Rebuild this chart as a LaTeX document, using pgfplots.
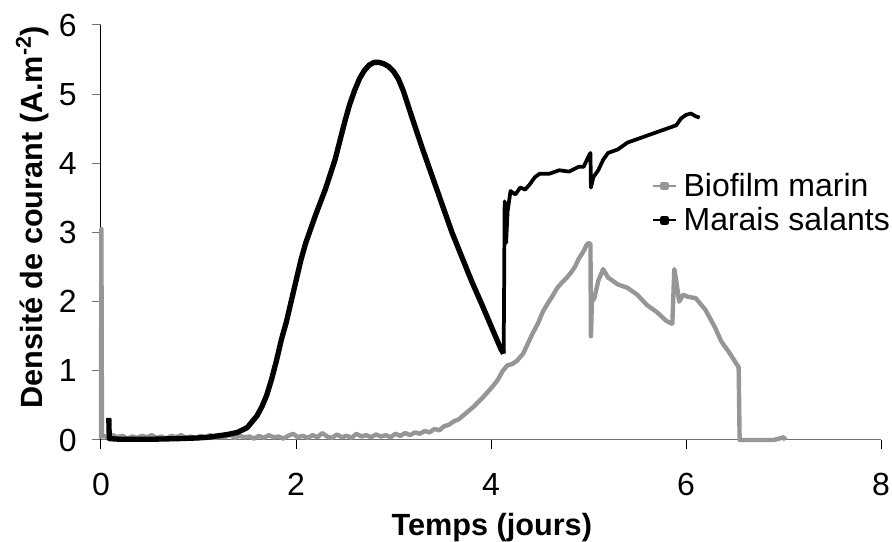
\documentclass[border=0pt]{standalone}
\usepackage{pgfplots}
\pgfplotsset{compat=1.18}
\usepackage{fontspec}
\setmainfont{Liberation Sans}
\definecolor{bio}{RGB}{150,150,150}
\begin{document}
\begin{tikzpicture}
\begin{axis}[
  width=585pt, height=311.25pt, scale only axis=true,
  xmin=0, xmax=8, ymin=0, ymax=6,
  axis x line=bottom, axis y line=left,
  axis line style={-, line width=0.75pt},
  x axis line style={draw=black!55},
  y axis line style={draw=black},
  tick align=outside, major tick length=6.75pt,
  xtick style={black, line width=0.75pt},
  ytick style={black!55, line width=0.75pt},
  xtick={0,2,4,6,8}, ytick={0,1,2,3,4,5,6},
  minor tick num=0,
  /pgf/number format/assume math mode=true,
  tick label style={font=\fontsize{24}{28}\selectfont, inner sep=0pt},
  xticklabel style={anchor=north, yshift=-18pt},
  yticklabel style={anchor=east, xshift=-11.25pt},
  label style={font=\fontsize{23}{27}\selectfont\bfseries, inner sep=0pt},
  xlabel={Temps (jours)},
  ylabel={Densité de courant (A.m\textsuperscript{-2})},
  xlabel style={at={(axis description cs:0.501,-0.229)}, anchor=base},
  ylabel style={at={(axis description cs:-0.0745,0.537)}, anchor=base},
  legend style={draw=none, fill=none, at={(axis description cs:0.7064,0.6434)}, anchor=north west,
    font=\fontsize{24}{28}\selectfont, row sep=7pt, column sep=5pt, inner sep=0pt,
    nodes={inner sep=0pt}},
  legend cell align=left,
  clip=false,
]
\coordinate (BL) at (rel axis cs:0,0);
\coordinate (TR) at (rel axis cs:1,1);
\addplot[bio, line width=3.3pt, line join=round,
  legend image code/.code={\draw[bio, line width=1.5pt] (0pt,0pt) -- (17pt,0pt); \fill[bio] (7pt,-1.5pt) rectangle (10pt,1.5pt);}]
coordinates {
(0,0.02)(0.004,3.05)(0.01,0.05)(0.03,0.06)(0.08,0.03)(0.12,0.07)(0.17,0.04)(0.22,0.06)(0.27,0.02)(0.32,0.05)(0.37,0.03)(0.42,0.06)(0.47,0.04)(0.52,0.07)(0.57,0.03)(0.62,0.05)(0.67,0.02)(0.72,0.06)(0.77,0.04)(0.82,0.07)(0.87,0.03)(0.92,0.05)(0.97,0.02)(1.02,0.06)(1.07,0.04)(1.12,0.07)(1.17,0.03)(1.22,0.05)(1.27,0.04)(1.32,0.08)(1.37,0.03)(1.42,0.06)(1.47,0.04)(1.52,0.05)(1.57,0.02)(1.62,0.06)(1.67,0.03)(1.72,0.07)(1.77,0.04)(1.82,0.05)(1.87,0.02)(1.92,0.06)(1.97,0.09)(2.02,0.04)(2.07,0.06)(2.12,0.03)(2.17,0.07)(2.22,0.04)(2.27,0.1)(2.32,0.05)(2.37,0.03)(2.42,0.08)(2.47,0.04)(2.52,0.06)(2.57,0.03)(2.62,0.09)(2.67,0.05)(2.72,0.07)(2.77,0.04)(2.82,0.08)(2.87,0.05)(2.92,0.07)(2.97,0.04)(3.02,0.09)(3.07,0.06)(3.12,0.1)(3.17,0.07)(3.22,0.11)(3.27,0.09)(3.32,0.13)(3.37,0.11)(3.42,0.16)(3.47,0.14)(3.52,0.2)(3.57,0.22)(3.62,0.27)(3.67,0.3)(3.72,0.36)(3.77,0.42)(3.82,0.48)(3.87,0.55)(3.92,0.62)(3.97,0.7)(4.02,0.78)(4.07,0.87)(4.12,1.0)(4.17,1.08)(4.22,1.1)(4.27,1.15)(4.33,1.25)(4.38,1.4)(4.43,1.55)(4.48,1.68)(4.53,1.85)(4.58,1.97)(4.63,2.08)(4.68,2.2)(4.73,2.28)(4.78,2.35)(4.82,2.42)(4.86,2.5)(4.9,2.62)(4.95,2.73)(4.98,2.82)(5.0,2.85)(5.02,2.83)
(5.025,1.5)(5.035,2.0)(5.06,2.05)(5.1,2.3)(5.15,2.47)(5.2,2.35)(5.3,2.25)(5.4,2.2)(5.5,2.1)(5.6,1.95)(5.7,1.85)(5.8,1.72)(5.86,1.68)(5.88,2.47)(5.9,2.3)(5.93,2.0)(5.97,2.1)(6.02,2.07)(6.1,2.05)(6.2,1.88)(6.3,1.62)(6.36,1.43)(6.45,1.25)(6.54,1.05)(6.55,0)(6.7,0)(6.9,0)(6.98,0.03)(7.0,0.04)(7.02,0.0)
};
\addlegendentry{Biofilm marin}
\addplot[black, line width=4pt, line join=round,
  legend image code/.code={\draw[black, line width=1.5pt] (0pt,0pt) -- (17pt,0pt); \fill[black] (7pt,-1.5pt) rectangle (10pt,1.5pt);}]
coordinates {
(0.08,0.32)(0.085,0.02)(0.2,0.01)(0.5,0.01)(0.8,0.02)(1.0,0.03)(1.1,0.04)(1.2,0.06)(1.3,0.08)(1.4,0.11)(1.5,0.18)(1.6,0.35)(1.65,0.48)(1.7,0.65)(1.75,0.88)(1.8,1.15)(1.85,1.45)(1.9,1.7)(1.95,2.0)(2.0,2.3)(2.05,2.6)(2.1,2.85)(2.15,3.05)(2.2,3.25)(2.3,3.62)(2.4,4.05)(2.5,4.6)(2.55,4.85)(2.6,5.05)(2.65,5.22)(2.7,5.34)(2.75,5.42)(2.8,5.46)(2.85,5.46)(2.9,5.44)(2.95,5.4)(3.0,5.33)(3.05,5.22)(3.1,5.05)(3.2,4.62)(3.3,4.2)(3.4,3.8)(3.5,3.4)(3.55,3.2)(3.6,3.0)(3.7,2.65)(3.8,2.3)(3.9,1.98)(4.0,1.65)(4.1,1.32)(4.13,1.25)
};
\addlegendentry{Marais salants}
\addplot[black, line width=2.8pt, line join=round, forget plot]
coordinates {
(4.13,1.25)(4.135,2.3)(4.14,3.45)(4.145,3.0)(4.155,2.85)(4.17,3.3)(4.2,3.6)(4.25,3.55)(4.3,3.65)(4.35,3.62)(4.4,3.7)(4.45,3.8)(4.5,3.85)(4.6,3.85)(4.7,3.9)(4.8,3.88)(4.9,3.95)(4.95,3.95)(5.0,4.1)(5.02,4.15)(5.025,3.65)(5.05,3.8)(5.1,3.9)(5.15,4.05)(5.2,4.15)(5.3,4.2)(5.4,4.3)(5.5,4.35)(5.6,4.4)(5.7,4.45)(5.8,4.5)(5.9,4.55)(5.95,4.65)(6.0,4.7)(6.05,4.72)(6.1,4.68)(6.14,4.66)
};
\end{axis}
\pgfresetboundingbox
\path ([shift={(-75.75pt,-76.5pt)}]BL) rectangle ([shift={(8.25pt,18.75pt)}]TR);
\end{tikzpicture}
\end{document}
